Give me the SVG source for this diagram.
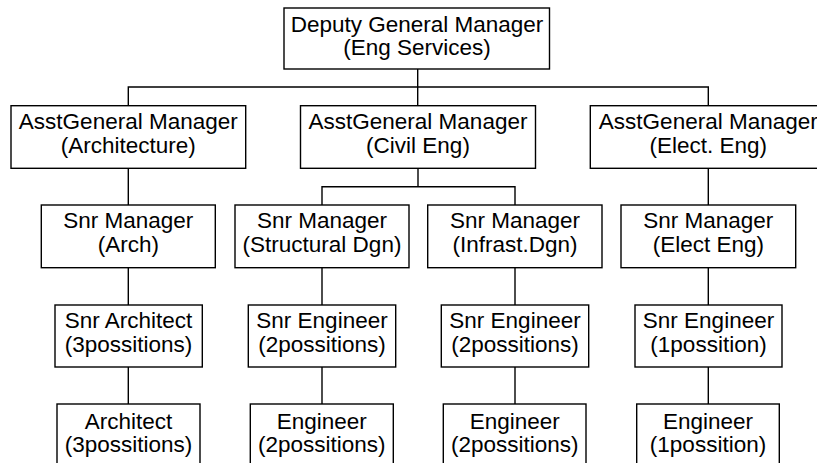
<svg xmlns="http://www.w3.org/2000/svg" width="817" height="463" viewBox="0 0 817 463">
<style>
  .box { fill: #ffffff; stroke: #000000; stroke-width: 1.4; }
  .lbl { font-family: "Liberation Sans", Arial, sans-serif; font-size: 22.5px; fill: #000000; text-anchor: middle; }
  .conn { fill: none; stroke: #000000; stroke-width: 1.4; }
</style>
<rect width="817" height="463" fill="#ffffff"/>
<g id="connectors">
  <path class="conn" d="M417.7,69 V105.7"/>
  <path class="conn" d="M128.3,105.7 V87 H708.3 V105.7"/>
  <path class="conn" d="M128.3,168.3 V205"/>
  <path class="conn" d="M418,168.3 V186.7"/>
  <path class="conn" d="M322,205 V186.7 H515 V205"/>
  <path class="conn" d="M708.3,168.3 V205"/>
  <path class="conn" d="M128.3,267.7 V305"/>
  <path class="conn" d="M322,267.7 V305"/>
  <path class="conn" d="M515,267.7 V305"/>
  <path class="conn" d="M708.3,267.7 V305"/>
  <path class="conn" d="M128.3,367 V404"/>
  <path class="conn" d="M322,367 V404"/>
  <path class="conn" d="M515,367 V404"/>
  <path class="conn" d="M708.3,367 V404"/>
</g>
<g id="dgm">
  <rect class="box" x="284" y="8" width="265.5" height="61"/>
  <text class="lbl" x="417" y="31.5">Deputy General Manager</text>
  <text class="lbl" x="417" y="55">(Eng Services)</text>
</g>
<g id="agm-arch">
  <rect class="box" x="11" y="105.7" width="234.7" height="62.6"/>
  <text class="lbl" x="128.3" y="129">AsstGeneral Manager</text>
  <text class="lbl" x="128.3" y="152.5">(Architecture)</text>
</g>
<g id="agm-civil">
  <rect class="box" x="300.5" y="105.7" width="235" height="62.6"/>
  <text class="lbl" x="418" y="129">AsstGeneral Manager</text>
  <text class="lbl" x="418" y="152.5">(Civil Eng)</text>
</g>
<g id="agm-elect">
  <rect class="box" x="590.3" y="105.7" width="235.7" height="62.6"/>
  <text class="lbl" x="708.3" y="129">AsstGeneral Manager</text>
  <text class="lbl" x="708.3" y="152.5">(Elect. Eng)</text>
</g>
<g id="sm-arch">
  <rect class="box" x="41.3" y="205" width="174" height="62.7"/>
  <text class="lbl" x="128.3" y="228.3">Snr Manager</text>
  <text class="lbl" x="128.3" y="251.8">(Arch)</text>
</g>
<g id="sm-struct">
  <rect class="box" x="235" y="205" width="174" height="62.7"/>
  <text class="lbl" x="322" y="228.3">Snr Manager</text>
  <text class="lbl" x="322" y="251.8">(Structural Dgn)</text>
</g>
<g id="sm-infra">
  <rect class="box" x="427.7" y="205" width="174.3" height="62.7"/>
  <text class="lbl" x="515" y="228.3">Snr Manager</text>
  <text class="lbl" x="515" y="251.8">(Infrast.Dgn)</text>
</g>
<g id="sm-elect">
  <rect class="box" x="621" y="205" width="174.7" height="62.7"/>
  <text class="lbl" x="708.3" y="228.3">Snr Manager</text>
  <text class="lbl" x="708.3" y="251.8">(Elect Eng)</text>
</g>
<g id="snr-architect">
  <rect class="box" x="55" y="305" width="147.3" height="62"/>
  <text class="lbl" x="128.6" y="328.3">Snr Architect</text>
  <text class="lbl" x="128.6" y="351.8">(3possitions)</text>
</g>
<g id="snr-eng-struct">
  <rect class="box" x="248.3" y="305" width="147.4" height="62"/>
  <text class="lbl" x="322" y="328.3">Snr Engineer</text>
  <text class="lbl" x="322" y="351.8">(2possitions)</text>
</g>
<g id="snr-eng-infra">
  <rect class="box" x="441.3" y="305" width="147.4" height="62"/>
  <text class="lbl" x="515" y="328.3">Snr Engineer</text>
  <text class="lbl" x="515" y="351.8">(2possitions)</text>
</g>
<g id="snr-eng-elect">
  <rect class="box" x="635" y="305" width="147" height="62"/>
  <text class="lbl" x="708.5" y="328.3">Snr Engineer</text>
  <text class="lbl" x="708.5" y="351.8">(1possition)</text>
</g>
<g id="architect">
  <rect class="box" x="57" y="404" width="143" height="62"/>
  <text class="lbl" x="128.5" y="428.8">Architect</text>
  <text class="lbl" x="128.5" y="452.3">(3possitions)</text>
</g>
<g id="eng-struct">
  <rect class="box" x="250.3" y="404" width="143" height="62"/>
  <text class="lbl" x="321.8" y="428.8">Engineer</text>
  <text class="lbl" x="321.8" y="452.3">(2possitions)</text>
</g>
<g id="eng-infra">
  <rect class="box" x="443.3" y="404" width="142.7" height="62"/>
  <text class="lbl" x="514.7" y="428.8">Engineer</text>
  <text class="lbl" x="514.7" y="452.3">(2possitions)</text>
</g>
<g id="eng-elect">
  <rect class="box" x="636.7" y="404" width="142.6" height="62"/>
  <text class="lbl" x="708" y="428.8">Engineer</text>
  <text class="lbl" x="708" y="452.3">(1possition)</text>
</g>
</svg>
